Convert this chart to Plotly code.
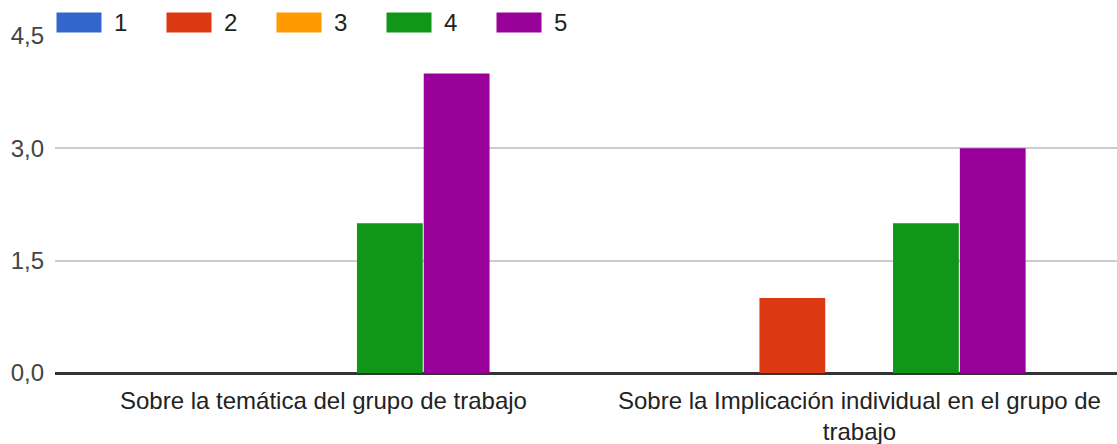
import plotly.graph_objects as go

categories = ["Sobre la temática del grupo de trabajo",
              "Sobre la Implicación individual en el grupo de trabajo"]
category_labels = ["Sobre la temática del grupo de trabajo",
                   "Sobre la Implicación individual en el grupo de<br>trabajo"]
series_names = ["1", "2", "3", "4", "5"]
values_1 = [0, 0]
values_2 = [0, 1]
values_3 = [0, 0]
values_4 = [2, 2]
values_5 = [4, 3]
series_values = [values_1, values_2, values_3, values_4, values_5]
colors = ["#3366cc", "#dc3912", "#ff9900", "#109618", "#990099"]
y_ticks = [0, 1.5, 3, 4.5]

FONT = "Liberation Sans, Arial, sans-serif"
W, H = 1117, 444
ML, MR, MT, MB = 55, 0, 36, 71
PW, PH = W - ML - MR, H - MT - MB

fig = go.Figure()
for name, vals, col in zip(series_names, series_values, colors):
    fig.add_trace(go.Bar(x=categories, y=vals, name=name, marker_color=col,
                         marker_line_width=0, showlegend=False))

# category labels
for cat, lab in zip(categories, category_labels):
    fig.add_annotation(x=cat, y=0, xref="x", yref="paper", yanchor="top",
                       xanchor="center", text=lab, showarrow=False,
                       yshift=-12,
                       font=dict(family=FONT, size=24, color="#222222"))

# legend (Google-charts style wide swatches)
def px_x(px):
    return (px - ML) / PW

def px_y(py):
    return (H - MB - py) / PH

LEG_X0, LEG_STEP, SW_W, SW_TOP, SW_BOT = 56, 110, 46, 12, 33
for i, (name, col) in enumerate(zip(series_names, colors)):
    x0 = LEG_X0 + LEG_STEP * i
    fig.add_shape(type="rect", xref="paper", yref="paper",
                  x0=px_x(x0), x1=px_x(x0 + SW_W),
                  y0=px_y(SW_BOT), y1=px_y(SW_TOP),
                  fillcolor=col, line=dict(color="white", width=1),
                  layer="above")
    fig.add_annotation(x=px_x(x0 + SW_W + 10), y=px_y((SW_TOP + SW_BOT) / 2),
                       xref="paper", yref="paper", xanchor="left",
                       yanchor="middle", text=name, showarrow=False,
                       font=dict(family=FONT, size=24, color="#222222"))

fig.update_layout(
    width=W, height=H,
    margin=dict(l=ML, r=MR, t=MT, b=MB, autoexpand=False),
    paper_bgcolor="white", plot_bgcolor="white",
    barmode="group", bargap=0.377, bargroupgap=0.015,
    separators=", ",
    font=dict(family=FONT, size=24, color="#444444"),
    showlegend=False,
    xaxis=dict(type="category", range=[-0.5, 1.481], showticklabels=False,
               showgrid=False, zeroline=False, showline=False, ticks="",
               automargin=False),
    yaxis=dict(range=[0, 4.5], tickvals=y_ticks, tickformat=".1f",
               showgrid=True, gridcolor="#cccccc", gridwidth=2,
               zeroline=True, zerolinecolor="#333333", zerolinewidth=3,
               showline=False, ticks="", ticklabelstandoff=10,
               automargin=False,
               tickfont=dict(family=FONT, size=24, color="#444444")),
)

fig.write_html("out.html",
               config={"displayModeBar": False},
               post_script="document.body.style.margin='0';"
                           "document.body.style.overflow='hidden';")
